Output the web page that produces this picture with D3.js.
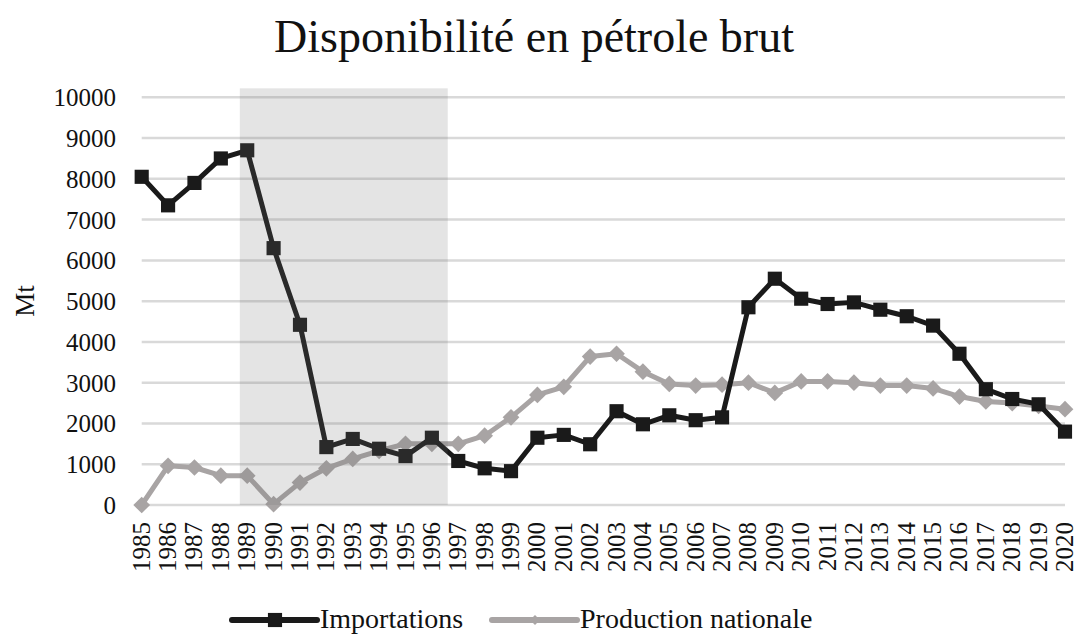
<!DOCTYPE html>
<html><head><meta charset="utf-8">
<script src="https://cdn.jsdelivr.net/npm/d3@7"></script>
<style>body{margin:0;background:#fff}svg{display:block}</style>
</head><body>
<script>
const years = d3.range(1985, 2021);
const importations = [8050,7350,7900,8500,8700,6300,4420,1420,1620,1380,1200,1650,1080,900,830,1650,1720,1490,2300,1980,2200,2080,2150,4850,5550,5060,4930,4970,4790,4630,4400,3710,2840,2600,2470,1800];
const production = [0,960,920,720,720,20,550,900,1130,1330,1500,1500,1500,1700,2150,2700,2900,3640,3710,3270,2970,2930,2950,3000,2750,3030,3030,3000,2930,2930,2860,2660,2540,2500,2430,2350];
const yTicks = [0,1000,2000,3000,4000,5000,6000,7000,8000,9000,10000];
const band = [1988.72, 1996.6];
const bandTop = 10220;
const title = "Disponibilité en pétrole brut";
const yLabel = "Mt";
const seriesNames = ["Importations", "Production nationale"];

const FONT = '"Liberation Serif"';
const W = 1076, H = 635;
const svg = d3.select("body").append("svg").attr("width", W).attr("height", H);
const x = d3.scaleLinear().domain([1985, 2020]).range([141.7, 1065]);
const y = d3.scaleLinear().domain([0, 10000]).range([505, 97.3]);

// gridlines
svg.append("g").selectAll("line").data(yTicks).join("line")
  .attr("x1", x(1985)).attr("x2", x(2020))
  .attr("y1", d => y(d)).attr("y2", d => y(d))
  .attr("stroke", "#d9d9d9").attr("stroke-width", 2.5);

// y axis labels
const yAxis = d3.axisLeft(y).tickValues(yTicks).tickSize(0).tickPadding(0).tickFormat(d3.format("d"));
const ga = svg.append("g").attr("transform", "translate(116,0)").call(yAxis);
ga.attr("font-family", null).attr("font-size", null);
ga.select(".domain").remove();
ga.selectAll("text").style("font-family", FONT).style("font-size", "25px").attr("fill", "#111").attr("dy", "0.34em");

// x axis labels
const xAxis = d3.axisBottom(x).tickValues(years).tickSize(0).tickFormat(d3.format("d"));
const gx = svg.append("g").attr("transform", "translate(0,522)").call(xAxis);
gx.attr("font-family", null).attr("font-size", null);
gx.select(".domain").remove();
gx.selectAll("text").style("font-family", FONT).style("font-size", "25px").attr("fill", "#111")
  .attr("transform", "rotate(-90)").attr("text-anchor", "end").attr("x", 0).attr("y", 0).attr("dy", "0.3em");

const lineGen = d3.line().x((d, i) => x(years[i])).y(d => y(d));

// production line
svg.append("path").datum(production).attr("d", lineGen).attr("fill", "none")
  .attr("stroke", "#a8a4a4").attr("stroke-width", 5).attr("stroke-linejoin", "round");
svg.append("g").selectAll("path").data(production).join("path")
  .attr("d", d3.symbol().type(d3.symbolSquare).size(140))
  .attr("transform", (d, i) => `translate(${x(years[i])},${y(d)}) rotate(45)`)
  .attr("fill", "#a8a4a4");

// importations line
svg.append("path").datum(importations).attr("d", lineGen).attr("fill", "none")
  .attr("stroke", "#1a1a1a").attr("stroke-width", 5).attr("stroke-linejoin", "round");
svg.append("g").selectAll("path").data(importations).join("path")
  .attr("d", d3.symbol().type(d3.symbolSquare).size(200))
  .attr("transform", (d, i) => `translate(${x(years[i])},${y(d)})`)
  .attr("fill", "#1a1a1a");

// shaded band on top
svg.append("rect").attr("x", x(band[0])).attr("width", x(band[1]) - x(band[0]))
  .attr("y", y(bandTop)).attr("height", y(0) - y(bandTop))
  .attr("fill", "rgb(109,109,109)").attr("fill-opacity", 0.19);

// title
svg.append("text").attr("x", 534).attr("y", 52).attr("text-anchor", "middle")
  .style("font-family", FONT).style("font-size", "46px").attr("fill", "#111").text(title);

// y label
svg.append("text").attr("transform", "translate(34,301) rotate(-90)").attr("text-anchor", "middle")
  .style("font-family", FONT).style("font-size", "27px").attr("fill", "#111").text(yLabel);

// legend
const leg = [
  {name: seriesNames[0], color: "#1a1a1a", x0: 232, size: 200, rot: 0},
  {name: seriesNames[1], color: "#a8a4a4", x0: 492, size: 50, rot: 45}
];
const lg = svg.append("g").selectAll("g").data(leg).join("g").attr("transform", d => `translate(${d.x0},620)`);
lg.append("line").attr("x1", 0).attr("x2", 85).attr("stroke", d => d.color).attr("stroke-width", 6).attr("stroke-linecap", "round");
lg.append("path").attr("d", d => d3.symbol().type(d3.symbolSquare).size(d.size)()).attr("transform", d => `translate(43,0) rotate(${d.rot})`).attr("fill", d => d.color);
lg.append("text").attr("x", 88).attr("y", 8).style("font-family", FONT).style("font-size", "28px").attr("fill", "#111").text(d => d.name);
</script>
</body></html>
